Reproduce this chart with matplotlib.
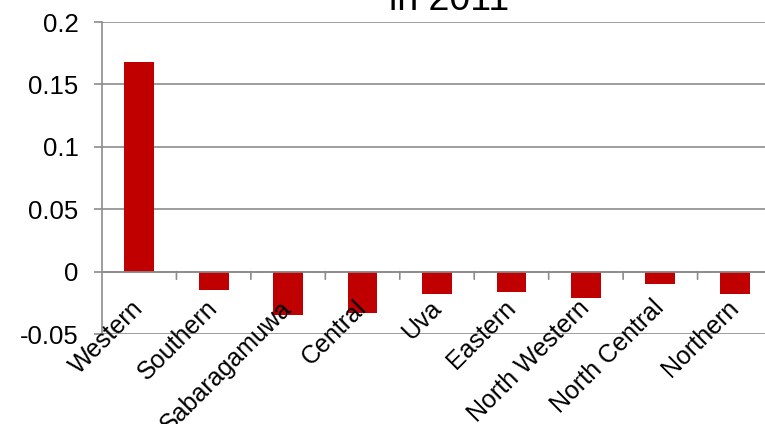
import matplotlib
matplotlib.use("Agg")
import matplotlib.pyplot as plt
import numpy as np

plt.rcParams['font.family'] = ['Liberation Sans', 'DejaVu Sans']

provinces = ["Western", "Southern", "Sabaragamuwa", "Central", "Uva",
             "Eastern", "North Western", "North Central", "Northern"]
values = [0.168, -0.015, -0.035, -0.033, -0.018, -0.016, -0.021, -0.010, -0.018]
yticks = [-0.05, 0, 0.05, 0.1, 0.15, 0.2]
ytick_labels = ["-0.05", "0", "0.05", "0.1", "0.15", "0.2"]

W, H = 765, 424
fig = plt.figure(figsize=(W / 100, H / 100), dpi=100)
ax = fig.add_axes([102 / W, (H - 334) / H, 670 / W, 312 / H])

grid_c = "#8c8c8c"
x = np.arange(len(provinces))
ax.bar(x, values, width=0.4, color="#c00000", zorder=3)

ax.set_xlim(-0.5, len(provinces) - 0.5)
ax.set_ylim(-0.05, 0.2)
ax.set_yticks(yticks)
ax.set_yticklabels(ytick_labels, fontsize=18.5)
ax.yaxis.grid(True, color=grid_c, linewidth=1.2, zorder=0)
ax.tick_params(axis='y', length=6, color=grid_c, width=1.2, pad=11)

for s in ["top", "right", "bottom"]:
    ax.spines[s].set_visible(False)
ax.spines["left"].set_color(grid_c)
ax.spines["left"].set_linewidth(1.2)

# horizontal axis drawn through zero, with ticks at category boundaries
ax.axhline(0, color=grid_c, linewidth=1.2, zorder=4)
ax.set_xticks([])
for b in np.arange(0.5, len(provinces) - 0.5, 1.0):
    ax.annotate("", xy=(b, 0), xycoords="data", xytext=(0, -5.5),
                textcoords="offset points",
                arrowprops=dict(arrowstyle="-", color=grid_c, lw=1.2,
                                shrinkA=0, shrinkB=0))

for i, name in enumerate(provinces):
    ax.annotate(name, xy=(i, 0), xycoords="data", xytext=(-6, -17.5),
                textcoords="offset points", rotation=45,
                rotation_mode="anchor", ha="right", va="top",
                fontsize=18, color="black", annotation_clip=False,
                zorder=5)

fig.text(449 / W, 1 - 10 / H, "in 2011", ha="center", va="baseline",
         fontsize=27, color="black")

fig.savefig("out.png", dpi=100)
